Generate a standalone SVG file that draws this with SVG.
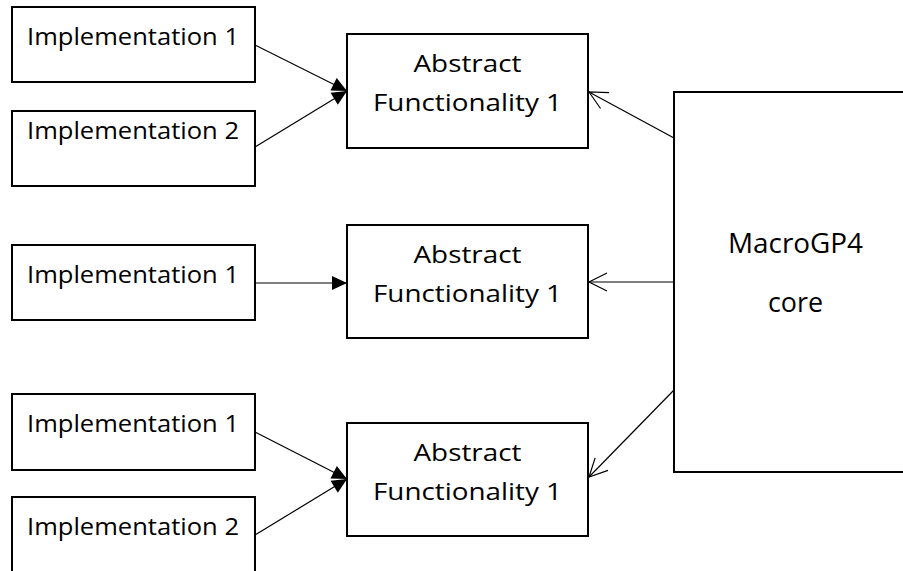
<svg xmlns="http://www.w3.org/2000/svg" width="903" height="571" viewBox="0 0 903 571">
  <style>
    .box { fill: #ffffff; stroke: #000000; stroke-width: 2; }
    .lbl { font-family: "Open Sans", "Liberation Sans", sans-serif; font-size: 23.5px; fill: #000000; }
    .abs { font-size: 24.5px; }
    .big { font-size: 28px; }
    .mid { text-anchor: middle; }
    .edge { fill: none; stroke: #000000; stroke-width: 1.2; }
  </style>
  <defs>
    <marker id="solid" markerUnits="userSpaceOnUse" markerWidth="16" markerHeight="16" refX="15" refY="7" orient="auto" overflow="visible">
      <path d="M0,0 L15,7 L0,14 Z" fill="#000000"/>
    </marker>
    <marker id="open" markerUnits="userSpaceOnUse" markerWidth="20" markerHeight="20" refX="18" refY="9" orient="auto" overflow="visible">
      <path d="M0,0 L18,9 L0,18" fill="none" stroke="#000000" stroke-width="1.2"/>
    </marker>
  </defs>
  <rect width="903" height="571" fill="#ffffff"/>

  <!-- connectors -->
  <g id="connectors">
    <line class="edge" x1="255" y1="45" x2="347" y2="91" marker-end="url(#solid)"/>
    <line class="edge" x1="255" y1="147" x2="347" y2="91" marker-end="url(#solid)"/>
    <line class="edge" x1="255" y1="283" x2="347" y2="283" marker-end="url(#solid)"/>
    <line class="edge" x1="255" y1="432" x2="347" y2="479" marker-end="url(#solid)"/>
    <line class="edge" x1="255" y1="535" x2="347" y2="479" marker-end="url(#solid)"/>
    <line class="edge" x1="674" y1="138" x2="589" y2="92" marker-end="url(#open)"/>
    <line class="edge" x1="674" y1="282" x2="589" y2="282" marker-end="url(#open)"/>
    <line class="edge" x1="674" y1="390" x2="589" y2="477" marker-end="url(#open)"/>
  </g>

  <!-- group 1 -->
  <g id="impl-1a">
    <rect class="box" x="12" y="7" width="243" height="75"/>
    <text class="lbl" x="27" y="45" textLength="212" lengthAdjust="spacingAndGlyphs">Implementation 1</text>
  </g>
  <g id="impl-1b">
    <rect class="box" x="12" y="111" width="243" height="75"/>
    <text class="lbl" x="27" y="139" textLength="212" lengthAdjust="spacingAndGlyphs">Implementation 2</text>
  </g>
  <g id="abstract-1">
    <rect class="box" x="347" y="34" width="241" height="114"/>
    <text class="lbl abs mid" x="467.5" y="72" textLength="108" lengthAdjust="spacingAndGlyphs">Abstract</text>
    <text class="lbl abs mid" x="467.5" y="111" textLength="189" lengthAdjust="spacingAndGlyphs">Functionality 1</text>
  </g>

  <!-- group 2 -->
  <g id="impl-2a">
    <rect class="box" x="12" y="245" width="243" height="75"/>
    <text class="lbl" x="27" y="283" textLength="212" lengthAdjust="spacingAndGlyphs">Implementation 1</text>
  </g>
  <g id="abstract-2">
    <rect class="box" x="347" y="225" width="241" height="113"/>
    <text class="lbl abs mid" x="467.5" y="263" textLength="108" lengthAdjust="spacingAndGlyphs">Abstract</text>
    <text class="lbl abs mid" x="467.5" y="302" textLength="189" lengthAdjust="spacingAndGlyphs">Functionality 1</text>
  </g>

  <!-- group 3 -->
  <g id="impl-3a">
    <rect class="box" x="12" y="394" width="243" height="76"/>
    <text class="lbl" x="27" y="432" textLength="212" lengthAdjust="spacingAndGlyphs">Implementation 1</text>
  </g>
  <g id="impl-3b">
    <rect class="box" x="12" y="497" width="243" height="90"/>
    <text class="lbl" x="27" y="535" textLength="212" lengthAdjust="spacingAndGlyphs">Implementation 2</text>
  </g>
  <g id="abstract-3">
    <rect class="box" x="347" y="423" width="241" height="113"/>
    <text class="lbl abs mid" x="467.5" y="461" textLength="108" lengthAdjust="spacingAndGlyphs">Abstract</text>
    <text class="lbl abs mid" x="467.5" y="500" textLength="189" lengthAdjust="spacingAndGlyphs">Functionality 1</text>
  </g>

  <!-- core -->
  <g id="core">
    <rect class="box" x="674" y="92" width="250" height="380"/>
    <text class="lbl big mid" x="795.5" y="253" textLength="135" lengthAdjust="spacingAndGlyphs">MacroGP4</text>
    <text class="lbl big mid" x="795.5" y="312" textLength="55" lengthAdjust="spacingAndGlyphs">core</text>
  </g>
</svg>
